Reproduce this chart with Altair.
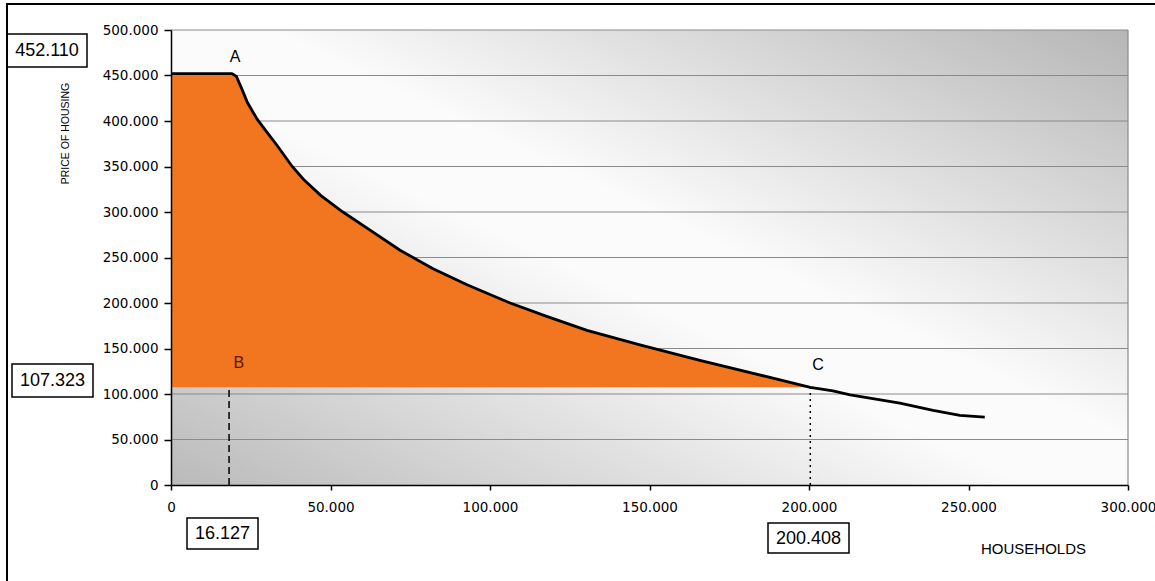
import altair as alt
import pandas as pd

# ---- data ----
households = [0, 19100, 20500, 22000, 24000, 27000, 30000, 33500, 38000, 41500, 47000,
              53900, 62400, 71800, 82000, 92800, 106300, 118000, 130400, 147000, 165800,
              186800, 200408, 207500, 212900, 220000, 228500, 238900, 247300, 255100]
prices = [452110, 452110, 449000, 437000, 420000, 402000, 388000, 372000, 350000, 336000,
          318000, 300000, 280000, 258000, 238000, 220000, 200000, 185000, 170000, 154000,
          137000, 119000, 107323, 103500, 99000, 95000, 90000, 82000, 76500, 74700]

price_max = 452110
price_c = 107323
households_c = 200408
households_b_drawn = 18200      # where the dashed line B is drawn
households_b_label = "16.127"

point_labels = ["A", "B", "C"]
point_x = [20100, 21300, 202800]
point_y = [470000, 134000, 132000]
point_colors = ["#000000", "#5a1800", "#000000"]

y_ticks = [0, 50000, 100000, 150000, 200000, 250000, 300000, 350000, 400000, 450000, 500000]
x_ticks = [0, 50000, 100000, 150000, 200000, 250000, 300000]
grid_values = [50000, 100000, 150000, 200000, 250000, 300000, 350000, 400000, 450000, 500000]

# ---- layout ----
W, H = 957, 455
label_expr = "replace(format(datum.value, ','), ',', '.')"

xs = alt.Scale(domain=[0, 300000], nice=False, zero=True)
ys = alt.Scale(domain=[0, 500000], nice=False, zero=True)

x_axis = alt.Axis(values=x_ticks, labelExpr=label_expr, title="HOUSEHOLDS", grid=False,
                  tickSize=5, labelPadding=10, labelFlush=False, zindex=1,
                  titleX=862, titleY=63, titleAnchor="start", titleAlign="center",
                  titleBaseline="middle", titleFontSize=15, titleFontWeight="normal",
                  titleFont="Liberation Sans")
y_axis = alt.Axis(values=y_ticks, labelExpr=label_expr, title="PRICE OF HOUSING", grid=False,
                  tickSize=7, labelPadding=6, labelFlush=False, zindex=1,
                  titleX=-106, titleY=103, titleAngle=270, titleAlign="center",
                  titleBaseline="middle", titleFontSize=10.5, titleFontWeight="normal",
                  titleFont="Liberation Sans")

def X(field):
    return alt.X(field, type="quantitative", scale=xs, axis=x_axis)

def Y(field):
    return alt.Y(field, type="quantitative", scale=ys, axis=y_axis)

curve = pd.DataFrame({"households": households, "price": prices})
fill_df = curve[curve["households"] <= households_c].copy()
fill_df["base"] = price_c

one = pd.DataFrame({"a": [0]})

gradient = alt.LinearGradient(
    gradient="linear", x1=1, y1=0, x2=0, y2=1,
    stops=[alt.GradientStop(color="#b6b6b6", offset=0),
           alt.GradientStop(color="#fbfbfb", offset=0.45),
           alt.GradientStop(color="#fbfbfb", offset=0.55),
           alt.GradientStop(color="#bababa", offset=1)])

bg = alt.Chart(one).mark_rect(fill=gradient, strokeWidth=0).encode(
    x=alt.value(0), x2=alt.value(W), y=alt.value(0), y2=alt.value(H))

grid = alt.Chart(pd.DataFrame({"price": grid_values})).mark_rule(
    color="#8a8a8a", strokeWidth=1).encode(y=Y("price"))

right_border = alt.Chart(pd.DataFrame({"households": [300000]})).mark_rule(
    color="#8a8a8a", strokeWidth=1.2).encode(x=X("households"))

area = alt.Chart(fill_df).mark_area(color="#F2751F", opacity=1, interpolate="linear").encode(
    x=X("households"), y=Y("price"), y2="base:Q")

line = alt.Chart(curve).mark_line(color="#000000", strokeWidth=2.8).encode(
    x=X("households"), y=Y("price"))

rule_b = alt.Chart(pd.DataFrame({"households": [households_b_drawn], "price": [0], "top": [price_c]})).mark_rule(
    color="#000000", strokeWidth=1.5, strokeDash=[7, 4]).encode(
    x=X("households"), y=Y("price"), y2="top:Q")

rule_c = alt.Chart(pd.DataFrame({"households": [households_c], "price": [0], "top": [price_c]})).mark_rule(
    color="#000000", strokeWidth=1.5, strokeDash=[2, 4]).encode(
    x=X("households"), y=Y("price"), y2="top:Q")

pts = pd.DataFrame({"households": point_x, "price": point_y, "lab": point_labels, "col": point_colors})
point_text = alt.Chart(pts).mark_text(font="Liberation Sans", fontSize=16, baseline="middle",
                                       align="center").encode(
    x=X("households"), y=Y("price"), text="lab:N", color=alt.Color("col:N", scale=None))

# annotation boxes (pixel layout relative to plot area)
boxes = [
    ("452.110", -164, -84, 4, 37),
    ("107.323", -159, -78, 334, 367),
    (households_b_label, 16, 87, 488, 519),
    ("200.408", 597, 678, 493, 523),
]
box_layers = []
for text, x1, x2, y1, y2 in boxes:
    box_layers.append(alt.Chart(one).mark_rect(fill="#ffffff", stroke="#000000", strokeWidth=1.5).encode(
        x=alt.value(x1), x2=alt.value(x2), y=alt.value(y1), y2=alt.value(y2)))
    box_layers.append(alt.Chart(one).mark_text(text=text, font="Liberation Sans", fontSize=18,
                                               align="center", baseline="middle", color="#000000").encode(
        x=alt.value((x1 + x2) / 2), y=alt.value((y1 + y2) / 2 + 0.5)))

frame = alt.Chart(one).mark_rect(fill=None, stroke="#000000", strokeWidth=2).encode(
    x=alt.value(-164), x2=alt.value(1000), y=alt.value(-26), y2=alt.value(570))

chart = alt.layer(bg, grid, right_border, area, line, rule_b, rule_c, point_text,
                  *box_layers, frame).properties(
    width=W, height=H,
    padding={"left": 171, "top": 30, "right": 27, "bottom": 96},
    autosize=alt.AutoSizeParams(type="none"),
    background="#ffffff",
).configure_view(stroke=None).configure_axis(
    labelFont="DejaVu Sans", labelFontSize=13.5, labelColor="#000000",
    domainColor="#000000", domainWidth=1.5, tickColor="#000000", tickWidth=1.5,
    titleColor="#000000",
)

chart.save("out.html", embed_options={"renderer": "svg", "actions": False})
